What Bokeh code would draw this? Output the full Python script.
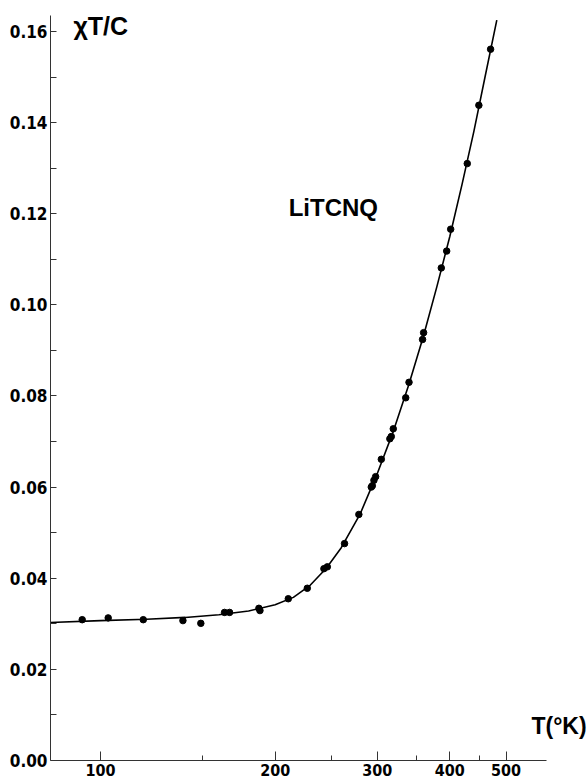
from bokeh.plotting import figure
from bokeh.models import FixedTicker, PrintfTickFormatter, Label, Range1d
from bokeh.embed import file_html
from bokeh.resources import INLINE

# Measured points: temperature (K) and reduced susceptibility chi*T/C
temp_k = [93.0, 103.1, 118.5, 138.7, 148.9, 163.6, 166.9, 187.5, 188.3, 210.7,
          227.2, 242.7, 246.0, 263.4, 278.8, 292.9, 294.1, 296.0, 298.0, 304.8,
          315.3, 317.1, 319.6, 335.8, 340.2, 359.0, 360.5, 386.7, 395.1, 401.4,
          428.7, 448.9, 470.3]
chi_t_c = [0.0309, 0.0313, 0.0309, 0.0307, 0.0301, 0.0325, 0.0325, 0.0334, 0.0329, 0.0355,
           0.0378, 0.0421, 0.0425, 0.0476, 0.0540, 0.0600, 0.0603, 0.0615, 0.0623, 0.0661,
           0.0706, 0.0711, 0.0728, 0.0796, 0.0830, 0.0924, 0.0939, 0.1081, 0.1118, 0.1166,
           0.1310, 0.1438, 0.1561]

# Smooth curve through the measurements
curve_t = [82, 100, 120, 140, 160, 180, 200, 215, 230, 245, 260, 280, 300,
           320, 340, 360, 380, 400, 420, 440, 460, 482]
curve_chi = [0.0303, 0.0307, 0.0310, 0.0314, 0.0320, 0.0328, 0.0342, 0.0358, 0.0385,
             0.0422, 0.0467, 0.0540, 0.0630, 0.0724, 0.0825, 0.0930, 0.1040, 0.1150,
             0.1265, 0.1380, 0.1500, 0.1625]

x_major = [100, 200, 300, 400, 500]
x_minor = [150, 250, 350, 450]
y_major = [0.00, 0.02, 0.04, 0.06, 0.08, 0.10, 0.12, 0.14, 0.16]
y_minor = [0.01, 0.03, 0.05, 0.07, 0.09, 0.11, 0.13, 0.15]

NARROW = "DejaVu Sans Condensed, Liberation Sans Narrow, Arial Narrow, sans-serif"
BOLD = "Liberation Sans, Arial, sans-serif"

p = figure(width=588, height=782, x_axis_type="log",
           x_range=Range1d(82.0, 693.6), y_range=Range1d(0, 0.1635),
           output_backend="svg", toolbar_location=None,
           min_border_left=50, min_border_right=0,
           min_border_top=15, min_border_bottom=22)

p.outline_line_color = None
p.grid.visible = False
p.background_fill_color = "white"
p.border_fill_color = "white"

# x axis (log temperature); the line stops short of the right edge
xa = p.xaxis[0]
xa.bounds = (82.0, 587)
xa.ticker = FixedTicker(ticks=x_major, minor_ticks=x_minor)
xa.formatter = PrintfTickFormatter(format="%d")
xa.major_tick_in = 9
xa.major_tick_out = 0
xa.minor_tick_in = 5
xa.minor_tick_out = 0
xa.major_label_standoff = 3
xa.major_label_text_font = NARROW
xa.major_label_text_font_style = "bold"
xa.major_label_text_font_size = "16px"
xa.major_label_text_color = "black"
xa.axis_line_color = "#333333"
xa.major_tick_line_color = "#333333"
xa.minor_tick_line_color = "#333333"

# y axis
ya = p.yaxis[0]
ya.ticker = FixedTicker(ticks=y_major, minor_ticks=y_minor)
ya.formatter = PrintfTickFormatter(format="%.2f")
ya.major_tick_in = 6
ya.major_tick_out = 0
ya.minor_tick_in = 6
ya.minor_tick_out = 0
ya.major_label_standoff = 3
ya.major_label_text_font = NARROW
ya.major_label_text_font_style = "bold"
ya.major_label_text_font_size = "17px"
ya.major_label_text_color = "black"
ya.axis_line_color = "#333333"
ya.major_tick_line_color = "#333333"
ya.minor_tick_line_color = "#333333"

p.line(curve_t, curve_chi, line_color="black", line_width=1.6)
p.scatter(temp_k, chi_t_c, size=6.5, fill_color="black", line_color="black")

p.add_layout(Label(x=89.8, y=0.1611, text="χT/C", text_font=BOLD,
                   text_font_style="bold", text_font_size="25px",
                   text_color="black", text_baseline="middle"))
p.add_layout(Label(x=211, y=0.1214, text="LiTCNQ", text_font=BOLD,
                   text_font_style="bold", text_font_size="24px",
                   text_color="black", text_baseline="middle"))
p.add_layout(Label(x=553, y=0.0075, text="T(°K)", text_font=BOLD,
                   text_font_style="bold", text_font_size="23px",
                   text_color="black", text_baseline="middle"))

open("out.html", "w").write(file_html(p, INLINE))
